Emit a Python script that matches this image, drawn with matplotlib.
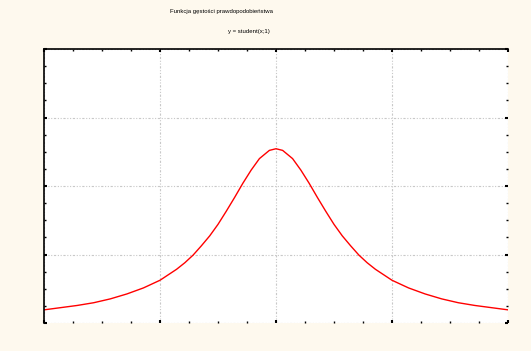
import numpy as np
import matplotlib
matplotlib.use("Agg")
import matplotlib.pyplot as plt
from matplotlib.ticker import MultipleLocator

# values (density of Student t with 1 df), right half
x_right = [0.0, 0.1, 0.25, 0.375, 0.5, 0.625, 0.75, 0.875, 1.0, 1.125, 1.25, 1.375,
           1.5, 1.75, 2.0, 2.25, 2.5, 2.75, 3.0, 3.25, 3.5]
y_right = [0.318, 0.315, 0.300, 0.279, 0.255, 0.229, 0.204, 0.180, 0.159, 0.141,
           0.124, 0.110, 0.098, 0.078, 0.064, 0.053, 0.044, 0.037, 0.032, 0.028, 0.024]

title_1 = "Funkcja gęstości prawdopodobieństwa"
title_2 = "y = student(x;1)"

x_vals = [-v for v in x_right[:0:-1]] + x_right
y_vals = y_right[:0:-1] + y_right

bg = "#fef9ee"
fig = plt.figure(figsize=(5.31, 3.51), dpi=100, facecolor=bg)
ax = fig.add_axes([44 / 531, 1 - 323 / 351, 464 / 531, 274 / 351])
ax.set_facecolor("white")

ax.plot(x_vals, y_vals, color="#ff0000", lw=1.0)

ax.set_xlim(-3.5, 3.5)
ax.set_ylim(0, 0.5)

ax.xaxis.set_major_locator(MultipleLocator(1.75))
ax.xaxis.set_minor_locator(MultipleLocator(0.4375))
ax.yaxis.set_major_locator(MultipleLocator(0.125))
ax.yaxis.set_minor_locator(MultipleLocator(0.03125))
ax.tick_params(which="both", direction="in", top=True, right=True,
               labelbottom=False, labelleft=False, color="black")
ax.tick_params(which="major", length=2, width=1.5)
ax.tick_params(which="minor", length=1.2, width=1)

ax.grid(True, which="major", color="#c8c8c8", lw=0.8,
        linestyle=(0, (2, 1.5, 1, 1.5, 1, 1.5)))

ax.spines["bottom"].set_visible(False)
ax.spines["right"].set_visible(False)
ax.spines["left"].set_linewidth(1.2)
ax.spines["top"].set_linewidth(1.2)

tfont = ["Liberation Sans", "DejaVu Sans"]
fig.text(222 / 531, 1 - 12 / 351, title_1, ha="center", va="center",
         fontsize=4.3, family=tfont)
fig.text(249 / 531, 1 - 31 / 351, title_2, ha="center", va="center",
         fontsize=4.3, family=tfont)

fig.savefig("out.png", dpi=100, facecolor=bg)
